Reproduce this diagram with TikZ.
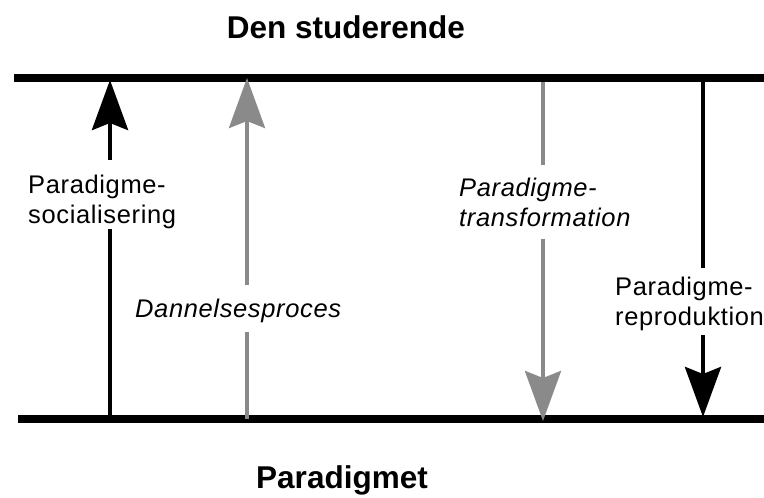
\documentclass[tikz,border=0pt]{standalone}
\usepackage{fontspec}
\setmainfont{Liberation Sans}
\newfontfamily\lblfont[LetterSpace=2.5]{Liberation Sans}
\usetikzlibrary{arrows.meta}
\definecolor{flowgray}{HTML}{8A8A8A}
\begin{document}
\begin{tikzpicture}[x=1pt,y=-1pt,
  level/.style={line width=8pt,black},
  blackflow/.style={line width=4.5pt,black},
  grayflow/.style={line width=3.5pt,flowgray},
  head/.style={-{Stealth[length=50pt,width=36pt,inset=7pt]}},
  lbl/.style={inner sep=0pt,align=left,font=\lblfont\fontsize{25.5}{30}\selectfont},
  ilbl/.style={lbl,font=\lblfont\itshape\fontsize{25.5}{30}\selectfont},
  ttl/.style={inner sep=0pt,anchor=base,font=\bfseries\fontsize{31.5}{36}\selectfont}]
  \clip (0,0) rectangle (764,498);

  % headings
  \node[ttl] (student) at (346,38) {Den studerende};
  \node[ttl] (paradigm) at (342,488) {Paradigmet};

  % the two levels
  \coordinate (topL) at (14,78);   \coordinate (topR) at (770,78);
  \coordinate (botL) at (18,419);  \coordinate (botR) at (770,419);
  \draw[level] (topL) -- (topR);
  \draw[level] (botL) -- (botR);

  % labels
  \node[lbl,anchor=north west] (soc) at (28,174.5) {Paradigme-\\socialisering};
  \node[ilbl,anchor=base west] (dan) at (135,317) {Dannelsesproces};
  \node[ilbl,anchor=north west] (trans) at (459,177.5) {Paradigme-\\transformation};
  \node[lbl,anchor=north west] (repro) at (615,276.5) {Paradigme-\\reproduktion};

  % end points on the levels
  \coordinate (s1) at (110,419); \coordinate (e1) at (110,80);
  \coordinate (s2) at (247,419); \coordinate (e2) at (247,78);
  \coordinate (s3) at (543,82);  \coordinate (e3) at (543,421);
  \coordinate (s4) at (703,82);  \coordinate (e4) at (703,417);

  % paradigm socialisation (up, black)
  \draw[blackflow] (s1) -- (s1 |- soc.south);
  \draw[blackflow,head,shorten <=14.5pt] (s1 |- soc.north) -- (e1);
  % formation process (up, gray)
  \draw[grayflow,shorten >=10pt] (s2) -- (s2 |- dan.south);
  \draw[grayflow,head,shorten <=13pt] (s2 |- dan.north) -- (e2);
  % paradigm transformation (down, gray)
  \draw[grayflow,shorten >=12.5pt] (s3) -- (s3 |- trans.north);
  \draw[grayflow,head,shorten <=12pt] (s3 |- trans.south) -- (e3);
  % paradigm reproduction (down, black)
  \draw[blackflow,shorten >=8.5pt] (s4) -- (s4 |- repro.north);
  \draw[blackflow,head,shorten <=4.6pt] (s4 |- repro.south) -- (e4);
\end{tikzpicture}
\end{document}
